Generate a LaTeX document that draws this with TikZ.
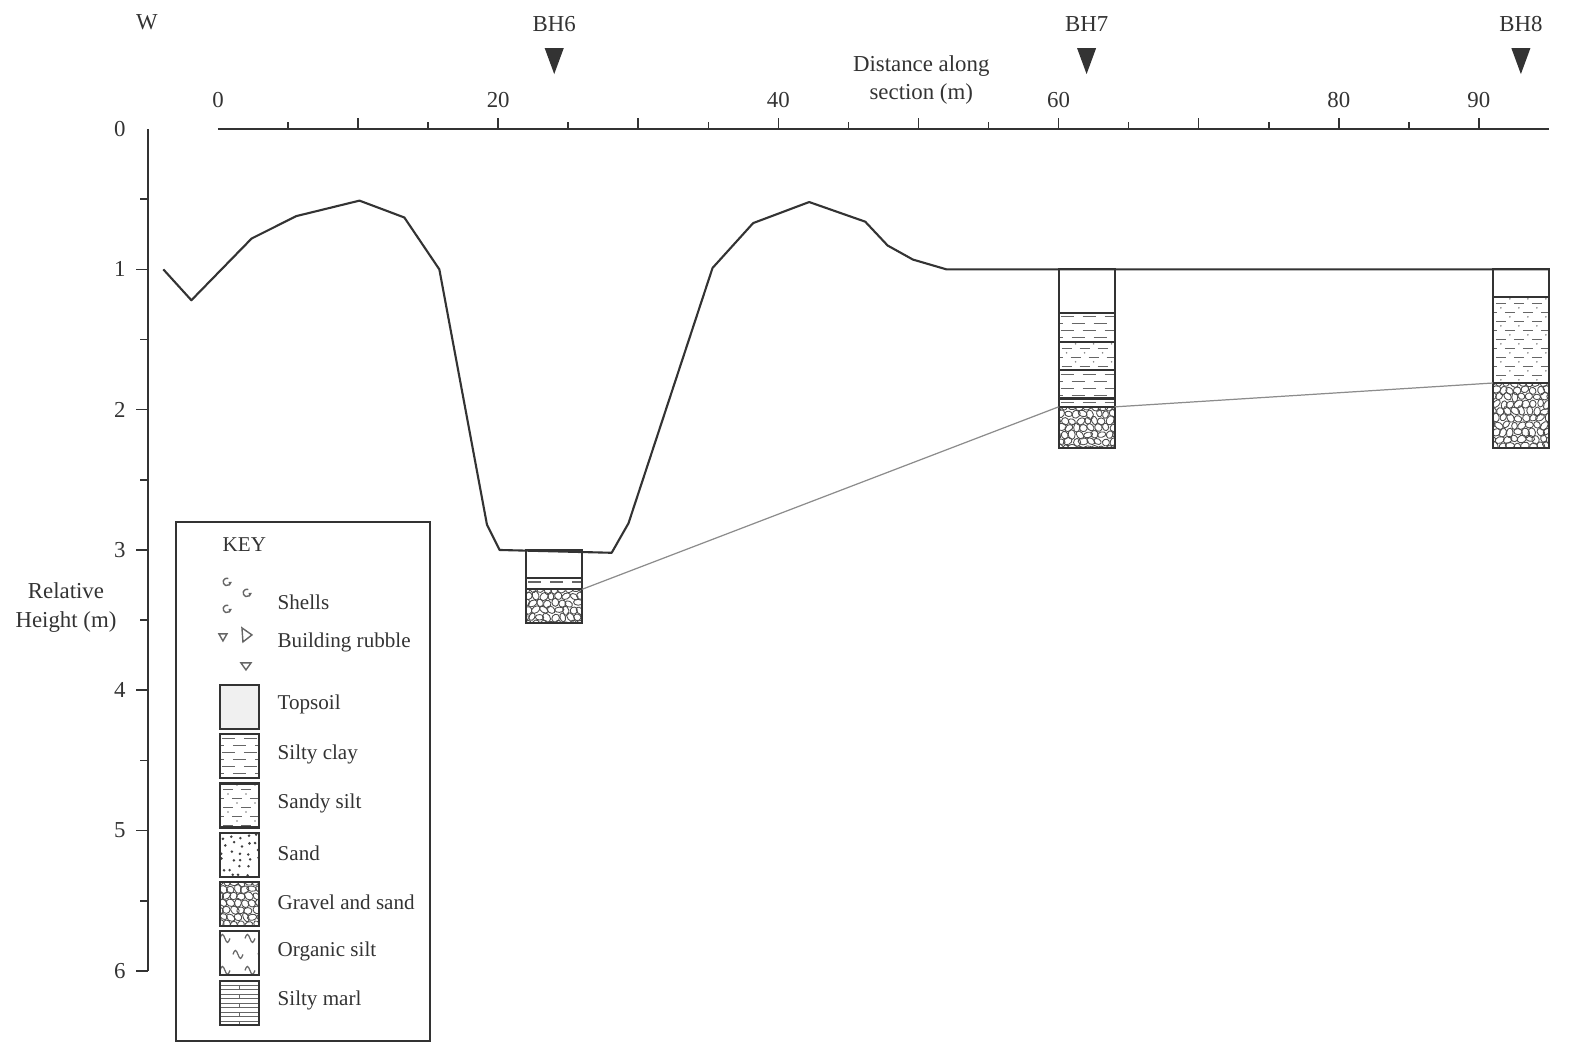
\documentclass[tikz,border=0pt]{standalone}
\usepackage{fontspec}
\setmainfont{Liberation Serif}
\usepackage{tikz}

\definecolor{ink}{HTML}{333333}

\tikzset{
  axis/.style={ink, line width=0.45pt},
  ground/.style={ink, line width=0.6pt, line join=round},
  bhbox/.style={ink, line width=0.6pt},
  corrline/.style={black!45, line width=0.35pt},
  patline/.style={black!60, line width=0.35pt},
  pebble/.style={black!70, line width=0.25pt},
  symb/.style={black!60, line width=0.4pt},
  lbl/.style={text=ink, inner sep=1pt},
  keylbl/.style={text=ink, inner sep=0pt, anchor=west, font=\fontsize{6}{7.2}\selectfont},
}

% fill patterns, drawn in 0.1mm steps from the top left corner
\newcommand{\pattopsoil}{}
\newcommand{\patsiltyclay}{%
  \foreach \r in {0,...,14}{
    \pgfmathsetmacro{\off}{mod(\r,2)==0 ? 2 : -9}
    \foreach \c in {0,...,3}
      \draw[patline] (\off+\c*22,4+\r*7) -- ++(13,0);
  }}
\newcommand{\patsandysilt}{%
  \foreach \r in {0,...,11}{
    \pgfmathsetmacro{\off}{mod(\r,2)==0 ? 3 : -6}
    \foreach \c in {0,...,4}{
      \draw[patline] (\off+\c*18,6+\r*9) -- ++(10,0);
      \fill[black!50] (\off+\c*18+14,1.5+\r*9) circle (0.25pt);}
  }}
\newcommand{\patsand}{%
  \foreach \r in {0,...,5}{
    \foreach \c in {0,...,4}{
      \pgfmathsetmacro{\gx}{\c*8.5+1+5*rnd}
      \pgfmathsetmacro{\gy}{\r*8+1+5*rnd}
      \fill[black!75] (\gx,\gy) circle (0.4pt);}}}
\newcommand{\patgravel}{%
  \foreach \r in {0,...,14}{
    \foreach \c in {0,...,8}{
      \pgfmathsetmacro{\gx}{\c*7.4+2.2*rnd+mod(\r,2)*3.7-2}
      \pgfmathsetmacro{\gy}{\r*7+2*rnd-1}
      \pgfmathsetmacro{\rx}{1.0+0.45*rnd}
      \pgfmathsetmacro{\ry}{0.75+0.35*rnd}
      \pgfmathsetmacro{\ang}{180*rnd}
      \draw[pebble] (\gx,\gy) ellipse [x radius=\rx pt, y radius=\ry pt, rotate=\ang];
    }}}
\newcommand{\patorganic}{%
  \foreach \r in {0,...,6}{
    \pgfmathsetmacro{\off}{mod(\r,2)==0 ? 0 : -12}
    \foreach \c in {0,...,3}
      \draw[patline] (\off+\c*25,7+\r*16) sin ++(2.5,-4) cos ++(2.5,4) sin ++(2.5,4) cos ++(2.5,-4);
  }}
\newcommand{\patmarl}{%
  \foreach \r in {1,...,20}{
    \draw[patline] (0,\r*4.5) -- ++(70,0);
    \pgfmathsetmacro{\off}{mod(\r,2)==0 ? 0 : 1}
    \ifnum\off=1 \draw[patline] (19.5,\r*4.5) -- ++(0,4.5); \fi
  }}

% one layer of a log: pattern, left, top, right, bottom
\newcommand{\soillayer}[5]{%
  \begin{scope}
    \clip (#2,#3) rectangle (#4,#5);
    \begin{scope}[shift={(#2,#3)}, x=0.1mm, y=-0.1mm]
      \csname pat#1\endcsname
    \end{scope}
  \end{scope}
  \draw[bhbox] (#2,#3) rectangle (#4,#5);}

% borehole marker above the section
\newcommand{\bhmark}[3]{%
  \fill[ink] (#1-0.68,-0.577) -- (#1+0.68,-0.577) -- (#1,-0.392) -- cycle;
  \node[lbl] (#2) at (#1,-0.75) {#3};}

\newcommand{\shell}[2]{%
  \draw[symb] ([shift={(70:0.38mm)}]#1,#2) arc[start angle=70, end angle=350, radius=0.38mm] -- ++(-0.2mm,0);}

\begin{document}
\begin{tikzpicture}[x=1.401mm, y=-14.03mm, font=\fontsize{6.5}{8}\selectfont]
  \pgfmathsetseed{11}
  \useasboundingbox (-15.56,-0.92) rectangle (96.72,6.53);

  % axes
  \draw[axis] (0,0) -- (95,0);
  \foreach \d in {5,15,...,85} \draw[axis] (\d,0) -- (\d,-0.05);
  \foreach \d in {10,20,...,90} \draw[axis] (\d,0) -- (\d,-0.078);
  \foreach \d in {0,20,40,60,80,90} \node[lbl] (x\d) at (\d,-0.207) {\d};
  \draw[axis] (-5,0) -- (-5,6);
  \foreach \h in {0.5,1.5,...,5.5} \draw[axis] (-5,\h) -- (-5.6,\h);
  \foreach \h in {1,...,6} \draw[axis] (-5,\h) -- (-5.86,\h);
  \foreach \h in {0,...,6} \node[lbl] (y\h) at (-7,\h) {\h};
  \node[lbl, align=center] (ytitle) at (-10.85,3.41) {Relative\\Height (m)};
  \node[lbl, align=center] (xtitle) at (50.2,-0.35) {Distance along\\section (m)};
  \node[lbl] (west) at (-5.07,-0.76) {W};

  \bhmark{24}{bh6}{BH6}
  \bhmark{62}{bh7}{BH7}
  \bhmark{93}{bh8}{BH8}

  % ground surface
  \draw[ground] (-3.9,1.0) -- (-1.9,1.22) -- (2.4,0.78) -- (5.6,0.62) -- (10.1,0.51)
    -- (13.3,0.63) -- (15.8,1.0) -- (19.2,2.82) -- (20.1,3.0) -- (28.1,3.02)
    -- (29.3,2.81) -- (35.3,0.99) -- (38.2,0.67) -- (42.2,0.52) -- (46.2,0.66)
    -- (47.8,0.83) -- (49.6,0.93) -- (52,1.0) -- (95,1.0);

  % logs
  \soillayer{topsoil}{22}{3.0}{26}{3.2}
  \soillayer{siltyclay}{22}{3.2}{26}{3.28}
  \soillayer{gravel}{22}{3.28}{26}{3.52}

  \soillayer{topsoil}{60}{1.0}{64}{1.31}
  \soillayer{siltyclay}{60}{1.31}{64}{1.52}
  \soillayer{sandysilt}{60}{1.52}{64}{1.72}
  \soillayer{siltyclay}{60}{1.72}{64}{1.92}
  \soillayer{siltyclay}{60}{1.92}{64}{1.98}
  \soillayer{gravel}{60}{1.98}{64}{2.27}

  \soillayer{topsoil}{91}{1.0}{95}{1.2}
  \soillayer{sandysilt}{91}{1.2}{95}{1.81}
  \soillayer{gravel}{91}{1.81}{95}{2.27}

  % top of the gravel
  \coordinate (g6) at (26,3.28);
  \coordinate (g7l) at (60,1.98);
  \coordinate (g7r) at (64,1.98);
  \coordinate (g8) at (91,1.81);
  \draw[corrline] (g6) -- (g7l);
  \draw[corrline] (g7r) -- (g8);

  % key
  \begin{scope}[shift={(-3,2.8)}, x=0.1mm, y=-0.1mm]
    \draw[axis] (0,0) rectangle (254,519);
    \node[keylbl] (keyhead) at (46,23) {KEY};
    \shell{51}{60} \shell{71}{71} \shell{51}{87}
    \node[keylbl] (kshells) at (101,80) {Shells};
    \draw[symb] (43,112) -- (51,112) -- (47,119) -- cycle;
    \draw[symb] (66,106) -- (76,113) -- (67,120) -- cycle;
    \draw[symb] (65,141) -- (75,141) -- (70,148) -- cycle;
    \node[keylbl] (krubble) at (101,121) {Building rubble};
    \fill[gray!12] (44,163) rectangle (83,207);
    \foreach \pat/\name [count=\i from 0] in {topsoil/Topsoil, siltyclay/Silty clay,
        sandysilt/Sandy silt, sand/Sand, gravel/Gravel and sand,
        organic/Organic silt, marl/Silty marl}{
      \pgfmathsetmacro{\ky}{163+49.3*\i}
      \soillayer{\pat}{44}{\ky}{83}{\ky+44}
      \node[keylbl] (k\pat) at (101,\ky+20) {\name};
    }
  \end{scope}
\end{tikzpicture}
\end{document}
